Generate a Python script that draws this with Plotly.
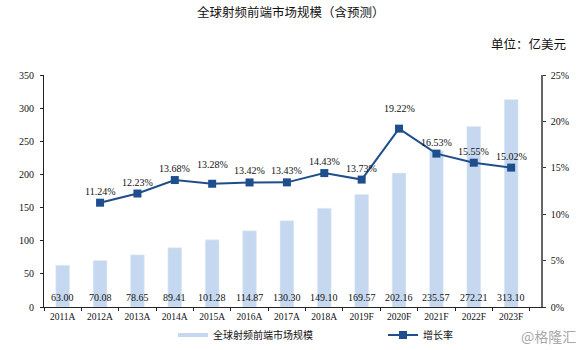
import plotly.graph_objects as go

categories = ["2011A", "2012A", "2013A", "2014A", "2015A", "2016A", "2017A",
              "2018A", "2019F", "2020F", "2021F", "2022F", "2023F"]
market_size = [63.00, 70.08, 78.65, 89.41, 101.28, 114.87, 130.30,
               149.10, 169.57, 202.16, 235.57, 272.21, 313.10]
growth_cats = categories[1:]
growth_rate = [11.24, 12.23, 13.68, 13.28, 13.42, 13.43, 14.43,
               13.73, 19.22, 16.53, 15.55, 15.02]
# extra lift (px) for a few growth labels that sit higher in the original
label_lift = {"2015A": 8, "2020F": 9}

FONT = "'Liberation Serif', 'Times New Roman', 'Noto Sans CJK SC', serif"
CJK = "'Noto Sans CJK SC', sans-serif"
BAR_COLOR = "#c6d8ef"
LINE_COLOR = "#1f4e8c"
TXT = "#111111"

W, H = 580, 350
L, R, T, B = 44, 39, 75, 43
pw, ph = W - L - R, H - T - B


def px(xp):
    return (xp - L) / pw


def py(yp):
    return (H - B - yp) / ph


fig = go.Figure()
fig.add_trace(go.Bar(
    x=categories, y=market_size, name="全球射频前端市场规模",
    marker=dict(color=BAR_COLOR), width=0.37, yaxis="y", showlegend=False,
))
# legend swatch for the bars (thin horizontal band like the reference)
fig.add_trace(go.Scatter(
    x=[None], y=[None], name="全球射频前端市场规模", mode="lines",
    line=dict(color=BAR_COLOR, width=4), yaxis="y",
))
fig.add_trace(go.Scatter(
    x=growth_cats, y=growth_rate, name="增长率", yaxis="y2",
    mode="lines+markers",
    line=dict(color=LINE_COLOR, width=2),
    marker=dict(symbol="square", size=8, color=LINE_COLOR),
))

annos = []
for c, v in zip(categories, market_size):
    annos.append(dict(x=c, y=0, xref="x", yref="y", text=f"{v:.2f}",
                      showarrow=False, yanchor="bottom", yshift=2,
                      font=dict(family=FONT, size=10, color=TXT)))
for c, v in zip(growth_cats, growth_rate):
    annos.append(dict(x=c, y=v, xref="x", yref="y2", text=f"{v:.2f}%",
                      showarrow=False, yanchor="bottom",
                      yshift=4 + label_lift.get(c, 0),
                      font=dict(family=FONT, size=10, color=TXT)))
annos.append(dict(x=px(291), y=py(12), xref="paper", yref="paper",
                  text="全球射频前端市场规模（含预测）",
                  showarrow=False, xanchor="center", yanchor="middle",
                  font=dict(family=FONT, size=12.5, color=TXT)))
annos.append(dict(x=px(568), y=py(44), xref="paper", yref="paper", text="单位：亿美元",
                  showarrow=False, xanchor="right", yanchor="middle",
                  font=dict(family=FONT, size=12.5, color=TXT)))
annos.append(dict(x=px(578), y=py(336), xref="paper", yref="paper", text="@格隆汇",
                  showarrow=False, xanchor="right", yanchor="middle",
                  font=dict(family=CJK, size=14, color="#a8a8a8")))

fig.update_layout(
    annotations=annos,
    width=W, height=H, margin=dict(l=L, r=R, t=T, b=B, autoexpand=False),
    paper_bgcolor="white", plot_bgcolor="white",
    font=dict(family=FONT, size=10, color=TXT),
    showlegend=True,
    legend=dict(orientation="h", x=px(173), y=py(335), xanchor="left", yanchor="middle",
                entrywidth=165, entrywidthmode="pixels",
                font=dict(family=FONT, size=10, color=TXT), bgcolor="rgba(0,0,0,0)"),
    xaxis=dict(showline=True, linecolor="#222", linewidth=1, ticks="outside",
               tickson="boundaries", ticklen=3, tickcolor="#222", tickangle=0,
               automargin=False, ticklabelstandoff=1,
               tickfont=dict(family=FONT, size=9.5, color=TXT), showgrid=False),
    yaxis=dict(range=[0, 350], dtick=50, showline=True, linecolor="#222", linewidth=1,
               ticks="outside", ticklen=3, tickcolor="#222", showgrid=False, zeroline=False,
               automargin=False, ticklabelstandoff=4,
               tickfont=dict(family=FONT, size=10, color=TXT)),
    yaxis2=dict(range=[0, 25], dtick=5, overlaying="y", side="right", ticksuffix="%",
                showline=True, linecolor="#666", linewidth=1.5, ticks="outside", ticklen=3,
                tickcolor="#333", showgrid=False, zeroline=False, automargin=False,
                ticklabelstandoff=3,
                tickfont=dict(family=FONT, size=10, color=TXT)),
)

fig.write_html("out.html")
